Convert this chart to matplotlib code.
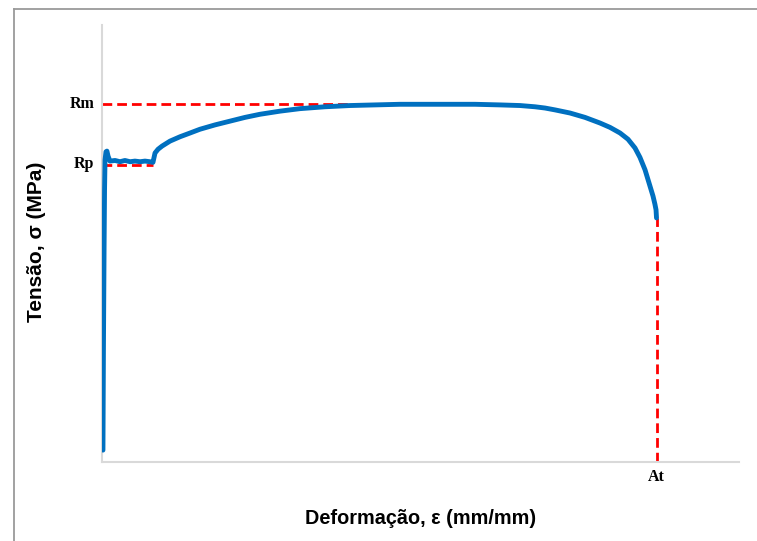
import matplotlib
matplotlib.use("Agg")
import matplotlib.pyplot as plt
from matplotlib.lines import Line2D

# Stress-strain curve (strain in mm/mm, stress in MPa)
strain = [0.0006, 0.0009, 0.0013, 0.0016, 0.0019, 0.0025, 0.0031, 0.0038, 0.0050,
          0.0082, 0.0113, 0.0144, 0.0176, 0.0207, 0.0239, 0.0270, 0.0301, 0.0320,
          0.0333, 0.0352, 0.0377, 0.0427, 0.0490, 0.0553, 0.0615, 0.0710, 0.0804,
          0.0898, 0.0992, 0.1118, 0.1243, 0.1400, 0.1557, 0.1714, 0.1871, 0.2028,
          0.2185, 0.2342, 0.2499, 0.2625, 0.2719, 0.2782, 0.2845, 0.2939, 0.3033,
          0.3127, 0.3190, 0.3253, 0.3303, 0.3347, 0.3378, 0.3410, 0.3441, 0.3460,
          0.3472, 0.3479, 0.3482]
stress = [19, 179, 340, 436, 484, 497, 498, 490, 482,
          483, 481, 483, 481, 482, 481, 482, 481, 480,
          495, 501, 506, 514, 521, 527, 533, 540, 546,
          552, 557, 562, 566, 569, 571, 572, 573, 573,
          573, 573, 572, 571, 569, 567, 564, 559, 552,
          543, 536, 527, 517, 503, 488, 468, 442, 426,
          413, 404, 391]

Rm = 573        # tensile strength
Rp = 475        # yield strength
Rp_end = 0.0320 # end of yield plateau
Rm_end = 0.156  # where the Rm guide meets the curve
At = 0.3482     # strain at fracture

x_max = 0.40
y_max = 700

W, H = 757, 541
fig = plt.figure(figsize=(W / 100, H / 100), dpi=100)
ax = fig.add_axes([102 / W, (H - 462) / H, (739 - 102) / W, (462 - 25) / H])

red = "#ff0000"
blue = "#0070c0"
dash = (0, (3.5, 1.8))

ax.plot([0, Rm_end], [Rm, Rm], color=red, lw=2.0, linestyle=dash, zorder=2)
ax.plot([0, Rp_end], [Rp, Rp], color=red, lw=2.0, linestyle=dash, zorder=2)
ax.plot([At, At], [0, stress[-1]], color=red, lw=2.0, linestyle=dash, zorder=2)

ax.plot(strain, stress, color=blue, lw=3.5, solid_capstyle="round",
        solid_joinstyle="round", zorder=3)

ax.set_xlim(0, x_max)
ax.set_ylim(0, y_max)
ax.set_xticks([])
ax.set_yticks([])
for side in ("top", "right"):
    ax.spines[side].set_visible(False)
for side in ("left", "bottom"):
    ax.spines[side].set_color("#d9d9d9")
    ax.spines[side].set_linewidth(1.5)

serif = dict(family="Liberation Serif", fontweight="bold", fontsize=11.5)
ax.annotate("Rm", xy=(0, Rm), xytext=(-5, 0), textcoords="offset points",
            ha="right", va="center", **serif)
ax.annotate("Rp", xy=(0, Rp), xytext=(-6, 1), textcoords="offset points",
            ha="right", va="center", **serif)
ax.annotate("At", xy=(At, 0), xytext=(0, -11), textcoords="offset points",
            ha="center", va="center", **serif)

sans = dict(family="Liberation Sans", fontweight="bold")
fig.text(421 / W, 1 - 519 / H, "Deformação, ε (mm/mm)", ha="center", va="center",
         fontsize=14.3, **sans)
fig.text(37 / W, 1 - 242 / H, "Tensão, σ (MPa)", rotation=90, ha="center", va="center",
         fontsize=15, **sans)

# outer frame (left and top edges)
frame = "#9a9a9a"
fig.add_artist(Line2D([13.5 / W, 13.5 / W], [0, 1 - 8.5 / H], color=frame, lw=1.3))
fig.add_artist(Line2D([13.5 / W, 1], [1 - 8.5 / H, 1 - 8.5 / H], color=frame, lw=1.3))

fig.savefig("out.png", dpi=100)
